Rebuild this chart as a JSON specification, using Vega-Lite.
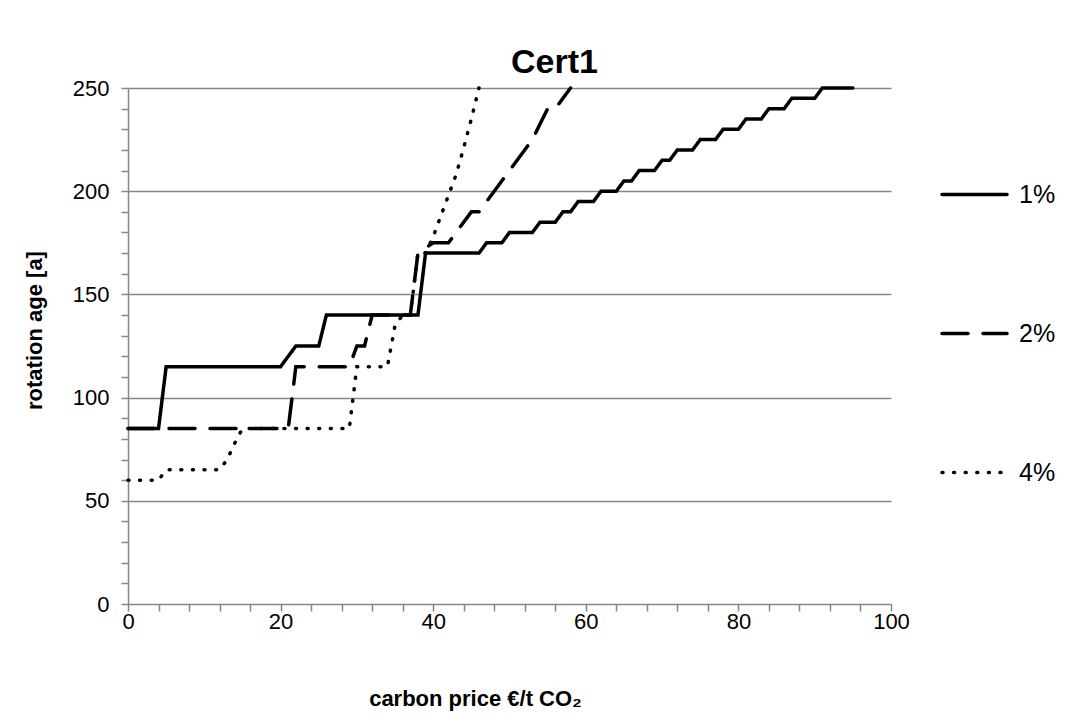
{
  "$schema": "https://vega.github.io/schema/vega-lite/v6.json",
  "width": 763,
  "height": 516,
  "autosize": {"type": "none"},
  "padding": {"left": 128, "top": 88, "right": 186, "bottom": 120},
  "background": "white",
  "config": {
    "font": "Liberation Sans",
    "view": {"stroke": null},
    "axis": {
      "domainColor": "#868686",
      "tickColor": "#868686",
      "gridColor": "#868686",
      "domainWidth": 1.5,
      "tickWidth": 1.5,
      "gridWidth": 1.5,
      "labelColor": "black",
      "labelFont": "Liberation Sans",
      "labelFontSize": 22,
      "titleColor": "black",
      "titleFont": "Liberation Sans",
      "titleFontWeight": "bold",
      "titleFontSize": 22,
      "labelOverlap": false,
      "labelFlush": false,
      "labelBound": false
    },
    "legend": {
      "symbolType": "stroke",
      "symbolSize": 4225,
      "symbolStrokeWidth": 3.5,
      "symbolStrokeColor": "black",
      "labelFontSize": 25,
      "labelColor": "black",
      "labelFont": "Liberation Sans",
      "labelOffset": 10,
      "rowPadding": 91
    }
  },
  "title": {
    "text": "Cert1",
    "fontSize": 34,
    "fontWeight": "bold",
    "color": "black",
    "font": "Liberation Sans",
    "anchor": "middle",
    "dx": 45,
    "offset": -3
  },
  "data": {
    "values": [
      {"price": 0, "age": 85, "rate": "1%"},
      {"price": 4, "age": 85, "rate": "1%"},
      {"price": 5, "age": 115, "rate": "1%"},
      {"price": 20, "age": 115, "rate": "1%"},
      {"price": 21, "age": 120, "rate": "1%"},
      {"price": 22, "age": 125, "rate": "1%"},
      {"price": 25, "age": 125, "rate": "1%"},
      {"price": 26, "age": 140, "rate": "1%"},
      {"price": 38, "age": 140, "rate": "1%"},
      {"price": 39, "age": 170, "rate": "1%"},
      {"price": 46, "age": 170, "rate": "1%"},
      {"price": 47, "age": 175, "rate": "1%"},
      {"price": 49, "age": 175, "rate": "1%"},
      {"price": 50, "age": 180, "rate": "1%"},
      {"price": 53, "age": 180, "rate": "1%"},
      {"price": 54, "age": 185, "rate": "1%"},
      {"price": 56, "age": 185, "rate": "1%"},
      {"price": 57, "age": 190, "rate": "1%"},
      {"price": 58, "age": 190, "rate": "1%"},
      {"price": 59, "age": 195, "rate": "1%"},
      {"price": 61, "age": 195, "rate": "1%"},
      {"price": 62, "age": 200, "rate": "1%"},
      {"price": 64, "age": 200, "rate": "1%"},
      {"price": 65, "age": 205, "rate": "1%"},
      {"price": 66, "age": 205, "rate": "1%"},
      {"price": 67, "age": 210, "rate": "1%"},
      {"price": 69, "age": 210, "rate": "1%"},
      {"price": 70, "age": 215, "rate": "1%"},
      {"price": 71, "age": 215, "rate": "1%"},
      {"price": 72, "age": 220, "rate": "1%"},
      {"price": 74, "age": 220, "rate": "1%"},
      {"price": 75, "age": 225, "rate": "1%"},
      {"price": 77, "age": 225, "rate": "1%"},
      {"price": 78, "age": 230, "rate": "1%"},
      {"price": 80, "age": 230, "rate": "1%"},
      {"price": 81, "age": 235, "rate": "1%"},
      {"price": 83, "age": 235, "rate": "1%"},
      {"price": 84, "age": 240, "rate": "1%"},
      {"price": 86, "age": 240, "rate": "1%"},
      {"price": 87, "age": 245, "rate": "1%"},
      {"price": 90, "age": 245, "rate": "1%"},
      {"price": 91, "age": 250, "rate": "1%"},
      {"price": 95, "age": 250, "rate": "1%"},
      {"price": 0, "age": 85, "rate": "2%"},
      {"price": 21, "age": 85, "rate": "2%"},
      {"price": 22, "age": 115, "rate": "2%"},
      {"price": 29, "age": 115, "rate": "2%"},
      {"price": 30, "age": 125, "rate": "2%"},
      {"price": 31, "age": 125, "rate": "2%"},
      {"price": 32, "age": 140, "rate": "2%"},
      {"price": 37, "age": 140, "rate": "2%"},
      {"price": 38, "age": 170, "rate": "2%"},
      {"price": 40, "age": 175, "rate": "2%"},
      {"price": 42, "age": 175, "rate": "2%"},
      {"price": 45, "age": 190, "rate": "2%"},
      {"price": 46, "age": 190, "rate": "2%"},
      {"price": 47, "age": 195, "rate": "2%"},
      {"price": 50, "age": 210, "rate": "2%"},
      {"price": 53, "age": 225, "rate": "2%"},
      {"price": 55, "age": 240, "rate": "2%"},
      {"price": 56, "age": 240, "rate": "2%"},
      {"price": 58, "age": 250, "rate": "2%"},
      {"price": 0, "age": 60, "rate": "4%"},
      {"price": 4, "age": 60, "rate": "4%"},
      {"price": 5, "age": 65, "rate": "4%"},
      {"price": 12, "age": 65, "rate": "4%"},
      {"price": 13, "age": 70, "rate": "4%"},
      {"price": 14, "age": 78, "rate": "4%"},
      {"price": 15, "age": 85, "rate": "4%"},
      {"price": 29, "age": 85, "rate": "4%"},
      {"price": 30, "age": 115, "rate": "4%"},
      {"price": 34, "age": 115, "rate": "4%"},
      {"price": 35, "age": 135, "rate": "4%"},
      {"price": 36, "age": 140, "rate": "4%"},
      {"price": 37, "age": 140, "rate": "4%"},
      {"price": 38, "age": 170, "rate": "4%"},
      {"price": 39, "age": 170, "rate": "4%"},
      {"price": 40, "age": 178, "rate": "4%"},
      {"price": 41, "age": 188, "rate": "4%"},
      {"price": 42, "age": 198, "rate": "4%"},
      {"price": 43, "age": 208, "rate": "4%"},
      {"price": 44, "age": 221, "rate": "4%"},
      {"price": 45, "age": 235, "rate": "4%"},
      {"price": 46, "age": 250, "rate": "4%"}
    ]
  },
  "mark": {"type": "line", "color": "black", "strokeCap": "round"},
  "encoding": {
    "x": {
      "field": "price",
      "type": "quantitative",
      "scale": {"domain": [0, 100], "nice": false},
      "axis": {
        "values": [0,4,8,12,16,20,24,28,32,36,40,44,48,52,56,60,64,68,72,76,80,84,88,92,96,100],
        "labelExpr": "datum.value % 20 === 0 ? datum.label : ''",
        "tickSize": 7,
        "grid": false,
        "labelPadding": 0,
        "title": "carbon price €/t CO₂",
        "titleX": 347,
        "titleY": 84
      }
    },
    "y": {
      "field": "age",
      "type": "quantitative",
      "scale": {"domain": [0, 250], "nice": false},
      "axis": {
        "values": [0,10,20,30,40,50,60,70,80,90,100,110,120,130,140,150,160,170,180,190,200,210,220,230,240,250],
        "labelExpr": "datum.value % 50 === 0 ? datum.label : ''",
        "tickSize": 7,
        "grid": true,
        "gridOpacity": {"condition": {"test": "datum.value % 50 === 0 && datum.value > 0", "value": 1}, "value": 0},
        "labelPadding": 12,
        "title": "rotation age [a]",
        "titleX": -82,
        "titleY": 242
      }
    },
    "strokeDash": {
      "field": "rate",
      "type": "nominal",
      "scale": {"domain": ["1%", "2%", "4%"], "range": [[1, 0], [26, 15], [1, 10.6]]},
      "legend": {
        "title": null,
        "orient": "none",
        "legendX": 812,
        "legendY": 72,
        "encode": {"symbols": {"update": {"strokeCap": {"value": "round"}}}}
      }
    },
    "strokeWidth": {
      "field": "rate",
      "type": "nominal",
      "scale": {"domain": ["1%", "2%", "4%"], "range": [3.5, 3.5, 5]},
      "legend": null
    }
  }
}
